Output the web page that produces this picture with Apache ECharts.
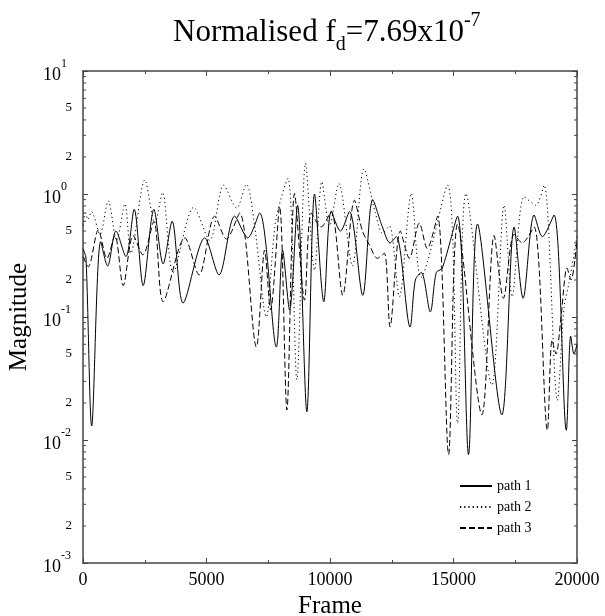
<!DOCTYPE html>
<html><head><meta charset="utf-8">
<script src="https://cdn.jsdelivr.net/npm/echarts@6/dist/echarts.min.js"></script>
<style>html,body{margin:0;padding:0;background:#fff}#c{width:605px;height:616px}</style>
</head><body><div id="c"></div>
<script>
// ---- data ----
const path1Frames = [0,121,352,715,998,1333,1737,2073,2436,2869,3244,3608,4053,4929,5507,6141,6667,7152,7826,8081,8364,8687,9063,9374,9750,10048,10424,10788,11325,11729,12121,12432,12687,13240,13455,13697,14061,14303,14545,15164,15608,15972,16958,17455,17818,18263,18598,19071,19568,19745,19879,20000];
const path1Values = [0.36,0.30,0.013,0.41,0.26,0.50,0.31,0.75,0.18,0.75,0.27,0.60,0.13,0.44,0.22,0.66,0.44,0.70,0.057,0.35,0.114,0.81,0.017,1.0,0.133,0.72,0.50,0.72,0.15,0.90,0.54,0.40,0.45,0.083,0.20,0.23,0.11,0.23,0.25,0.66,0.0076,0.57,0.016,0.54,0.142,0.675,0.45,0.675,0.012,0.07,0.05,0.06];

const path2Frames = [0,101,202,343,687,1022,1362,1697,1939,2505,2909,3220,3648,4485,5131,5697,6222,6614,6949,7422,7798,8295,8659,9010,9374,9669,9980,10356,10909,11374,11838,12121,12404,12808,13293,13685,14760,15164,15503,16554,17051,17374,17859,18331,18667,19204,19475,19677,20000];
const path2Values = [0.55,0.70,0.62,0.72,0.47,0.88,0.42,0.83,0.33,1.30,0.58,1.03,0.23,0.78,0.42,1.18,0.77,1.20,0.55,0.10,0.60,1.34,0.031,1.78,0.24,1.26,0.55,1.22,0.26,1.60,0.70,0.48,0.55,0.146,1.01,0.21,1.18,0.0137,1.01,0.028,0.81,0.146,0.95,0.81,1.18,0.021,0.12,0.19,0.45];

const path3Frames = [0,214,618,970,1293,1628,2032,2424,2869,3244,4121,4699,5333,5806,6343,7018,7354,7596,7960,8255,8566,8970,9240,9644,10048,10517,10990,11313,11596,11919,12202,12432,12848,13212,13616,13939,14356,14800,15164,16150,16646,17022,17455,17778,18263,18800,18990,19152,19354,19596,19758,20000];
const path3Values = [0.31,0.256,0.51,0.30,0.46,0.18,0.46,0.32,0.60,0.133,0.44,0.22,0.66,0.43,0.70,0.057,0.35,0.114,0.79,0.0175,1.01,0.137,0.70,0.54,0.72,0.15,0.89,0.50,0.385,0.30,0.33,0.083,0.50,0.30,0.58,0.36,0.66,0.0076,0.57,0.016,0.46,0.142,0.47,0.40,0.54,0.012,0.065,0.05,0.10,0.25,0.20,0.42];

const seriesNames = ['path 1','path 2','path 3'];
const xTickInterval = 5000;
const xMin = 0, xMax = 20000;
const yMin = 0.001, yMax = 10;
const yMinorLabelMantissas = [2,5];

// ---- helpers ----
const zip = (f, v) => f.map((x, i) => [x, v[i]]);
const FONT = 'Liberation Serif';
const AX = '#444';

const minorTickVals = [];
for (let e = -3; e < 1; e++) for (let m = 2; m <= 9; m++) minorTickVals.push([m, e]);

const chart = echarts.init(document.getElementById('c'), null, {renderer: 'canvas'});

const axisCommonX = {
  type: 'value', min: xMin, max: xMax, interval: xTickInterval,
  axisLine: {show: true, onZero: false, lineStyle: {color: AX, width: 1.5}},
  axisTick: {show: true, inside: true, length: 5, lineStyle: {color: AX, width: 1}},
  minorTick: {show: true, splitNumber: 2, length: 3, lineStyle: {color: AX, width: 1}},
  splitLine: {show: false}, minorSplitLine: {show: false}
};
const axisCommonY = {
  type: 'log', logBase: 10, min: yMin, max: yMax,
  axisLine: {show: true, onZero: false, lineStyle: {color: AX, width: 1.5}},
  axisTick: {show: true, inside: true, length: 5, lineStyle: {color: AX, width: 1}},
  splitLine: {show: false}
};

const lineCommon = {type: 'line', symbol: 'none', showSymbol: false, smooth: 0.3};

const option = {
  animation: false,
  backgroundColor: '#fff',
  title: {
    text: '{a|Normalised f}{d|d}{a|=7.69x10}{e|-7}',
    left: 168, top: 6,
    textStyle: {
      rich: {
        a: {fontFamily: FONT, fontSize: 31, fontWeight: 'normal', color: '#000', lineHeight: 44, verticalAlign: 'middle'},
        d: {fontFamily: FONT, fontSize: 20, fontWeight: 'normal', color: '#000', lineHeight: 18, verticalAlign: 'bottom'},
        e: {fontFamily: FONT, fontSize: 20, fontWeight: 'normal', color: '#000', lineHeight: 18, verticalAlign: 'top'}
      }
    }
  },
  legend: {
    orient: 'vertical', left: 454, top: 474,
    itemWidth: 32, itemHeight: 12, itemGap: 7,
    data: seriesNames,
    itemStyle: {opacity: 0},
    textStyle: {fontFamily: FONT, fontSize: 14, color: '#000'}
  },
  grid: {left: 83, right: 28, top: 71, bottom: 53, containLabel: false, outerBoundsMode: 'none'},
  xAxis: [
    Object.assign({}, axisCommonX, {
      position: 'bottom',
      axisLabel: {show: true, fontFamily: FONT, fontSize: 18, color: '#000', margin: 8, formatter: v => String(v)},
      name: 'Frame', nameLocation: 'middle', nameGap: 27,
      nameTextStyle: {fontFamily: FONT, fontSize: 25, color: '#000'}
    }),
    Object.assign({}, axisCommonX, {position: 'top', axisLabel: {show: false}})
  ],
  yAxis: [
    Object.assign({}, axisCommonY, {
      position: 'left',
      axisLabel: {
        show: true, align: 'left', margin: 40,
        formatter: v => '{b|10}{s|' + Math.round(Math.log10(v)) + '}',
        rich: {
          b: {fontFamily: FONT, fontSize: 18, color: '#000', lineHeight: 26, verticalAlign: 'bottom'},
          s: {fontFamily: FONT, fontSize: 12, color: '#000', lineHeight: 14, verticalAlign: 'top'}
        }
      },
      name: 'Magnitude', nameLocation: 'middle', nameGap: 40, nameRotate: 90,
      nameTextStyle: {fontFamily: FONT, fontSize: 25, color: '#000'}
    }),
    Object.assign({}, axisCommonY, {position: 'right', axisLabel: {show: false}})
  ],
  series: [
    Object.assign({}, lineCommon, {name: seriesNames[0], data: zip(path1Frames, path1Values),
     lineStyle: {color: '#000', width: 1, type: 'solid'}, itemStyle: {color: '#000'}, z: 4}),
    Object.assign({}, lineCommon, {name: seriesNames[1], data: zip(path2Frames, path2Values),
     lineStyle: {color: '#000', width: 1, type: [1.2, 3]}, itemStyle: {color: '#000'}, z: 3}),
    Object.assign({}, lineCommon, {name: seriesNames[2], data: zip(path3Frames, path3Values),
     lineStyle: {color: '#000', width: 1, type: [6, 3]}, itemStyle: {color: '#000'}, z: 3}),
    {
      type: 'custom', name: 'minorTicks', silent: true, clip: false, z: 5,
      data: minorTickVals.map(([m, e]) => [xMin, m * Math.pow(10, e), m]),
      renderItem: function (params, api) {
        const v = api.value(1), m = api.value(2);
        const pL = api.coord([xMin, v]);
        const pR = api.coord([xMax, v]);
        const children = [
          {type: 'line', shape: {x1: pL[0], y1: pL[1], x2: pL[0] + 3, y2: pL[1]}, style: {stroke: AX, lineWidth: 1}},
          {type: 'line', shape: {x1: pR[0] - 3, y1: pR[1], x2: pR[0], y2: pR[1]}, style: {stroke: AX, lineWidth: 1}}
        ];
        if (yMinorLabelMantissas.indexOf(m) >= 0) {
          children.push({type: 'text', x: pL[0] - 11, y: pL[1],
            style: {text: String(m), fontFamily: FONT, fontSize: 13, fill: '#000', align: 'right', verticalAlign: 'middle'}});
        }
        return {type: 'group', children: children};
      }
    }
  ]
};
chart.setOption(option);
</script></body></html>
